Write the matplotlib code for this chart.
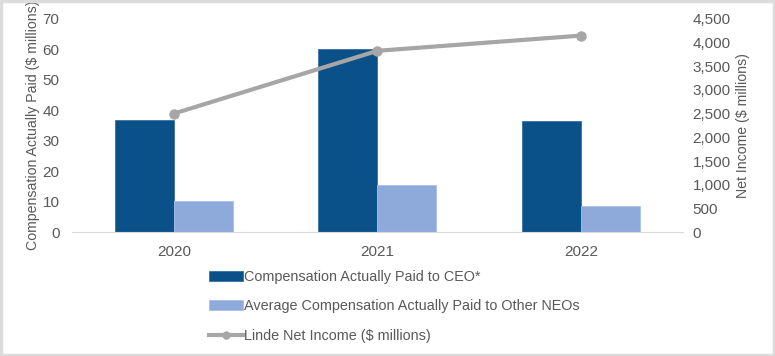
import matplotlib.pyplot as plt
import numpy as np
from matplotlib.ticker import FuncFormatter

plt.rcParams['font.family'] = ['Liberation Sans', 'DejaVu Sans']

years = ["2020", "2021", "2022"]
ceo_cap = [36.7, 60.2, 36.4]
neo_cap = [10.3, 15.5, 8.7]
net_income = [2501, 3826, 4147]

CEO_COLOR = "#0b5189"
NEO_COLOR = "#8eaadb"
LINE_COLOR = "#a6a6a6"
TEXT_COLOR = "#595959"


def plot_cap():
    fig = plt.figure(figsize=(7.75, 3.56), dpi=100)
    ax = fig.add_axes([0.093, 0.348, 0.788, 0.599])
    x = np.arange(len(years))
    w = 0.29

    b1 = ax.bar(x - w / 2, ceo_cap, w, color=CEO_COLOR, edgecolor="#3a6fa0", linewidth=0.6,
                label="Compensation Actually Paid to CEO*", zorder=2)
    b2 = ax.bar(x + w / 2, neo_cap, w, color=NEO_COLOR, edgecolor="#a9bfe5", linewidth=0.6,
                label="Average Compensation Actually Paid to Other NEOs", zorder=2)
    ax.set_xlim(-0.5, 2.5)
    ax.set_ylim(0, 70)
    ax.set_yticks(range(0, 71, 10))
    ax.set_xticks(x)
    ax.set_xticklabels(years)
    ax.set_ylabel("Compensation Actually Paid ($ millions)", fontsize=10.2, color=TEXT_COLOR, labelpad=2)

    ax2 = ax.twinx()
    ln, = ax2.plot(x, net_income, color=LINE_COLOR, linewidth=3, marker="o", markersize=6.5,
                   label="Linde Net Income ($ millions)", zorder=3)
    ax2.set_ylim(0, 4500)
    ax2.set_yticks(range(0, 4501, 500))
    ax2.yaxis.set_major_formatter(FuncFormatter(lambda v, p: f"{int(v):,}"))
    ax2.set_ylabel("Net Income ($ millions)", fontsize=10.2, color=TEXT_COLOR, labelpad=4)

    for a in (ax, ax2):
        for s in ["top", "right", "left"]:
            a.spines[s].set_visible(False)
        a.spines["bottom"].set_color("#d9d9d9")
        a.tick_params(length=0, labelsize=11, labelcolor=TEXT_COLOR)
    ax2.spines["bottom"].set_visible(False)
    ax.tick_params(axis="x", pad=9)
    ax.tick_params(axis="y", pad=9)
    ax2.tick_params(axis="y", pad=7)

    leg = fig.legend(handles=[b1, b2, ln], loc="upper left", bbox_to_anchor=(0.262, 0.257),
                     frameon=False, fontsize=10.4, labelcolor=TEXT_COLOR, handlelength=2.35,
                     handletextpad=0.1, labelspacing=1.05, borderaxespad=0)
    # slightly smaller marker in the legend line handle
    leg.legend_handles[2].set_markersize(5)

    fig.patches.append(plt.Rectangle((0.0015, 0.003), 0.997, 0.993, transform=fig.transFigure,
                                     fill=False, edgecolor="#dcdcdc", linewidth=2.5))
    fig.savefig("out.png", dpi=100)


if __name__ == '__main__':
    plot_cap()
